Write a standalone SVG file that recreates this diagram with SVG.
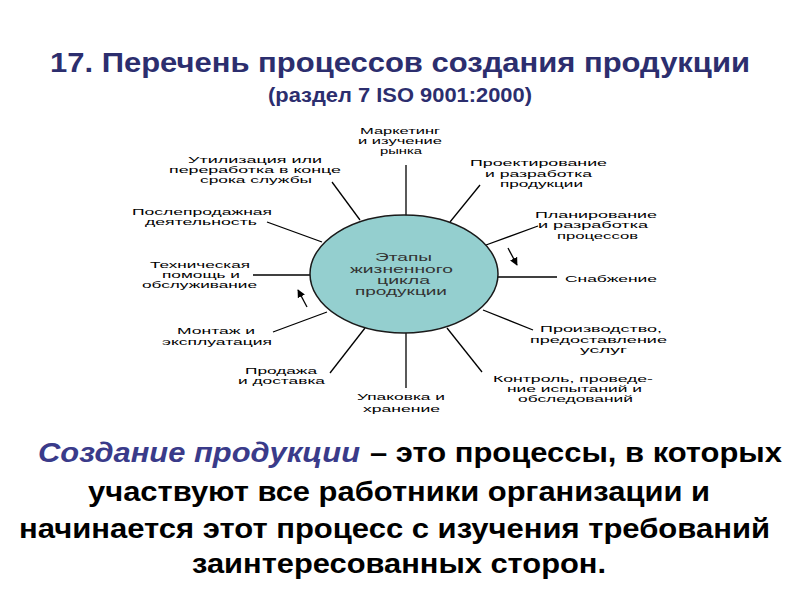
<svg xmlns="http://www.w3.org/2000/svg" width="800" height="600" viewBox="0 0 800 600">
<defs>
<style>
.title{font-family:"Liberation Sans",Arial,sans-serif;font-weight:bold;fill:#2c2e6e;}
.body{font-family:"Liberation Sans",Arial,sans-serif;font-weight:bold;font-size:28px;fill:#000;}
.em{font-family:"Liberation Sans",Arial,sans-serif;font-weight:bold;font-style:italic;font-size:28px;fill:#3a3b8a;}
.lbl{font-family:"Liberation Sans",Arial,sans-serif;font-size:9.5px;fill:#000;text-anchor:start;}
.ctr{font-family:"Liberation Sans",Arial,sans-serif;font-size:10px;fill:#333;}
.ln{stroke:#000;stroke-width:1.3;fill:none;}
</style>
<marker id="ah" viewBox="0 0 10 10" refX="9" refY="5" markerWidth="8" markerHeight="8" orient="auto" markerUnits="userSpaceOnUse">
<path d="M0,0 L10,5 L0,10 z" fill="#000"/>
</marker>
</defs>
<rect width="800" height="600" fill="#fff"/>

<g id="title">
<text class="title" x="50" y="72" font-size="28" textLength="700" lengthAdjust="spacingAndGlyphs">17. Перечень процессов создания продукции</text>
<text class="title" x="268" y="102" font-size="20" textLength="264" lengthAdjust="spacingAndGlyphs">(раздел 7 ISO 9001:2000)</text>
</g>

<g id="connectors">
<line class="ln" x1="406" y1="165" x2="406" y2="216"/>
<line class="ln" x1="480" y1="185" x2="450" y2="222"/>
<line class="ln" x1="538" y1="226" x2="486" y2="245"/>
<line class="ln" x1="498" y1="277" x2="557" y2="277"/>
<line class="ln" x1="483" y1="310" x2="533" y2="330"/>
<line class="ln" x1="447" y1="328" x2="482" y2="372"/>
<line class="ln" x1="406" y1="333" x2="406" y2="388"/>
<line class="ln" x1="365" y1="328" x2="330" y2="373"/>
<line class="ln" x1="327" y1="312" x2="273" y2="332"/>
<line class="ln" x1="253" y1="275" x2="310" y2="275"/>
<line class="ln" x1="267" y1="222" x2="322" y2="242"/>
<line class="ln" x1="332" y1="182" x2="360" y2="220"/>
<line class="ln" x1="508" y1="248" x2="517" y2="265" marker-end="url(#ah)"/>
<line class="ln" x1="307" y1="307" x2="298" y2="290" marker-end="url(#ah)"/>
</g>

<g id="center">
<ellipse cx="404" cy="274" rx="94" ry="59" fill="#94cfcf" stroke="#1a1a1a" stroke-width="1.5"/>
<text class="ctr" x="375" y="261" textLength="57" lengthAdjust="spacingAndGlyphs">Этапы</text>
<text class="ctr" x="350" y="273" textLength="103" lengthAdjust="spacingAndGlyphs">жизненного</text>
<text class="ctr" x="377" y="284" textLength="53" lengthAdjust="spacingAndGlyphs">цикла</text>
<text class="ctr" x="355" y="295" textLength="92" lengthAdjust="spacingAndGlyphs">продукции</text>
</g>

<g id="n-marketing">
<text class="lbl" x="360" y="134" textLength="80" lengthAdjust="spacingAndGlyphs">Маркетинг</text>
<text class="lbl" x="358" y="144" textLength="84" lengthAdjust="spacingAndGlyphs">и изучение</text>
<text class="lbl" x="380" y="154" textLength="42" lengthAdjust="spacingAndGlyphs">рынка</text>
</g>

<g id="n-design">
<text class="lbl" x="470" y="166" textLength="137" lengthAdjust="spacingAndGlyphs">Проектирование</text>
<text class="lbl" x="485" y="177" textLength="107" lengthAdjust="spacingAndGlyphs">и разработка</text>
<text class="lbl" x="500" y="187" textLength="83" lengthAdjust="spacingAndGlyphs">продукции</text>
</g>

<g id="n-planning">
<text class="lbl" x="535" y="218" textLength="122" lengthAdjust="spacingAndGlyphs">Планирование</text>
<text class="lbl" x="538" y="228" textLength="110" lengthAdjust="spacingAndGlyphs">и разработка</text>
<text class="lbl" x="557" y="239" textLength="81" lengthAdjust="spacingAndGlyphs">процессов</text>
</g>

<g id="n-supply">
<text class="lbl" x="565" y="282" textLength="92" lengthAdjust="spacingAndGlyphs">Снабжение</text>
</g>

<g id="n-production">
<text class="lbl" x="540" y="332" textLength="122" lengthAdjust="spacingAndGlyphs">Производство,</text>
<text class="lbl" x="530" y="343" textLength="137" lengthAdjust="spacingAndGlyphs">предоставление</text>
<text class="lbl" x="580" y="353" textLength="47" lengthAdjust="spacingAndGlyphs">услуг</text>
</g>

<g id="n-control">
<text class="lbl" x="493" y="382" textLength="160" lengthAdjust="spacingAndGlyphs">Контроль, проведе-</text>
<text class="lbl" x="507" y="392" textLength="135" lengthAdjust="spacingAndGlyphs">ние испытаний и</text>
<text class="lbl" x="518" y="402" textLength="115" lengthAdjust="spacingAndGlyphs">обследований</text>
</g>

<g id="n-packing">
<text class="lbl" x="357" y="400" textLength="88" lengthAdjust="spacingAndGlyphs">Упаковка и</text>
<text class="lbl" x="363" y="412" textLength="77" lengthAdjust="spacingAndGlyphs">хранение</text>
</g>

<g id="n-sales">
<text class="lbl" x="245" y="374" textLength="72" lengthAdjust="spacingAndGlyphs">Продажа</text>
<text class="lbl" x="238" y="384" textLength="87" lengthAdjust="spacingAndGlyphs">и доставка</text>
</g>

<g id="n-install">
<text class="lbl" x="177" y="334" textLength="78" lengthAdjust="spacingAndGlyphs">Монтаж и</text>
<text class="lbl" x="162" y="345" textLength="110" lengthAdjust="spacingAndGlyphs">эксплуатация</text>
</g>

<g id="n-support">
<text class="lbl" x="150" y="268" textLength="100" lengthAdjust="spacingAndGlyphs">Техническая</text>
<text class="lbl" x="162" y="278" textLength="78" lengthAdjust="spacingAndGlyphs">помощь и</text>
<text class="lbl" x="142" y="288" textLength="115" lengthAdjust="spacingAndGlyphs">обслуживание</text>
</g>

<g id="n-aftersales">
<text class="lbl" x="132" y="215" textLength="140" lengthAdjust="spacingAndGlyphs">Послепродажная</text>
<text class="lbl" x="145" y="225" textLength="112" lengthAdjust="spacingAndGlyphs">деятельность</text>
</g>

<g id="n-disposal">
<text class="lbl" x="188" y="163" textLength="134" lengthAdjust="spacingAndGlyphs">Утилизация или</text>
<text class="lbl" x="169" y="173" textLength="172" lengthAdjust="spacingAndGlyphs">переработка в конце</text>
<text class="lbl" x="200" y="183" textLength="112" lengthAdjust="spacingAndGlyphs">срока службы</text>
</g>

<g id="definition">
<text class="em" x="38" y="462" textLength="322" lengthAdjust="spacingAndGlyphs">Создание продукции</text>
<text class="body" x="370" y="462" textLength="412" lengthAdjust="spacingAndGlyphs">– это процессы, в которых</text>
<text class="body" x="88" y="501" textLength="622" lengthAdjust="spacingAndGlyphs">участвуют все работники организации и</text>
<text class="body" x="19" y="538" textLength="751" lengthAdjust="spacingAndGlyphs">начинается этот процесс с изучения требований</text>
<text class="body" x="192" y="573" textLength="414" lengthAdjust="spacingAndGlyphs">заинтересованных сторон.</text>
</g>
</svg>
